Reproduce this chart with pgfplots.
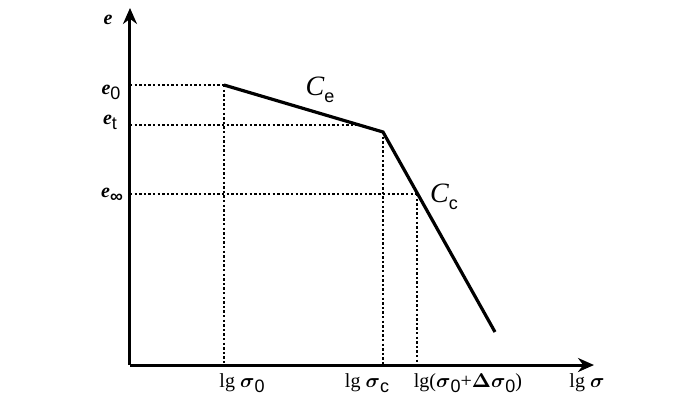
\documentclass[border=0pt]{standalone}
\usepackage{amsmath}
\usepackage{bm}
\usepackage{fontspec}
\setmainfont{Liberation Serif}
\setsansfont{Liberation Sans}
\usepackage{pgfplots}
\pgfplotsset{compat=1.18}
\usetikzlibrary{arrows.meta}
\newcommand{\sig}{$\bm{\sigma}$}
\newcommand{\sub}[1]{\raisebox{-0.55ex}{\sffamily\fontsize{9}{10}\selectfont #1}}
\newcommand{\ee}{\textbf{\textit{e}}}
\begin{document}
\begin{tikzpicture}
\begin{axis}[
  scale only axis, width=232pt, height=178.5pt,
  xmin=0, xmax=464, ymin=0, ymax=357,
  axis lines=left,
  axis line style={line width=1.5pt, -{Stealth[length=8pt,width=7pt]}},
  xtick=\empty, ytick=\empty,
  clip=false,
  every node/.style={font=\fontsize{12.5}{14}\selectfont, inner sep=0pt},
]
\path (axis cs:-130,-41) rectangle (axis cs:570,365);
% dotted guides
\pgfplotsset{guide/.style={black, line width=1.3pt, dash pattern=on 1.2pt off 1.1pt}}
\addplot[guide] coordinates {(0,280) (94,280)};
\addplot[guide] coordinates {(0,240) (229,240)};
\addplot[guide] coordinates {(0,171) (287,171)};
\addplot[guide] coordinates {(94,280) (94,0)};
\addplot[guide] coordinates {(253,233) (253,0)};
\addplot[guide] coordinates {(287,171) (287,0)};
% e-lg sigma curve
\addplot[black, line width=1.6pt] coordinates {(94,280) (253,233) (365,33)};
% labels
\node at (axis cs:-22,345) {\ee};
\node at (axis cs:-19,273) {\ee\sub{0}};
\node at (axis cs:-20,243) {\ee\sub{t}};
\node at (axis cs:-18,170) {\ee\sub{\bfseries ∞}};
\node at (axis cs:190,275) {\fontsize{14}{15}\selectfont\textit{C}\sub{e}};
\node at (axis cs:314,168) {\fontsize{14}{15}\selectfont\textit{C}\sub{c}};
\node at (axis cs:112,-18) {lg \sig\sub{0}};
\node at (axis cs:237,-18) {lg \sig\sub{c}};
\node at (axis cs:338,-18) {lg(\sig\sub{0}+$\bm{\Delta}$\sig\sub{0})};
\node at (axis cs:457,-18) {lg \sig};
\end{axis}
\end{tikzpicture}
\end{document}
